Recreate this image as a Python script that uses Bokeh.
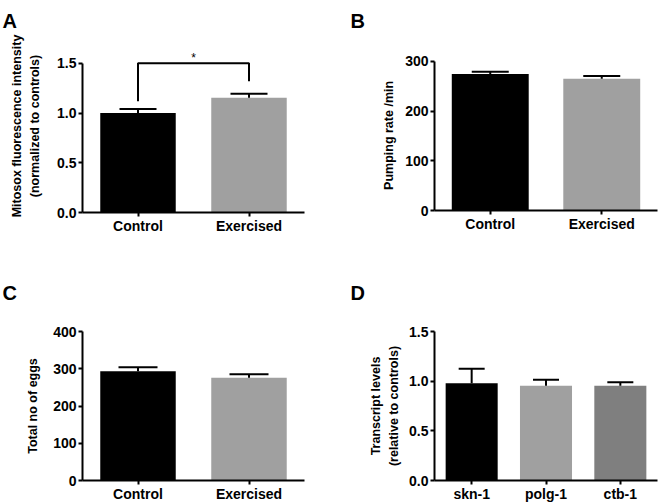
from bokeh.plotting import figure
from bokeh.layouts import column, row
from bokeh.models import (FactorRange, Range1d, FixedTicker, Whisker, TeeHead,
                          ColumnDataSource, PrintfTickFormatter)
from bokeh.embed import file_html
from bokeh.resources import INLINE
from bokeh.core.properties import value

# ---------------- data ----------------
groups = ["Control", "Exercised"]
mitosox_mean = [1.00, 1.155]
mitosox_sem = [0.04, 0.04]
pumping_mean = [274.5, 265.0]
pumping_sem = [4.5, 5.5]
eggs_mean = [293.0, 276.0]
eggs_sem = [11.0, 9.0]
genes = ["skn-1", "polg-1", "ctb-1"]
transcript_mean = [0.978, 0.955, 0.955]
transcript_sem = [0.147, 0.06, 0.035]

colors_2 = ["#000000", "#a0a0a0"]
colors_3 = ["#000000", "#a0a0a0", "#7f7f7f"]

ticks_a = [0, 0.5, 1.0, 1.5]
ticks_b = [0, 100, 200, 300]
ticks_c = [0, 100, 200, 300, 400]
ticks_d = [0, 0.5, 1.0, 1.5]

# significance bracket (panel A)
bracket_x = ["Control", "Control", "Exercised", "Exercised"]
bracket_y = [1.12, 1.5, 1.5, 1.32]
star_text = "*"

FONT = "Liberation Sans"
NBSP = "\u00a0"


def make_panel(letter, factors, means, sems, colors, ylabel, ticks, fmt,
               y_end, axis_top, width, height, mb_left, mb_right, mb_top,
               mb_bottom, bar_w, head, label_standoff, letter_offset,
               letter_standoff):
    p = figure(x_range=FactorRange(factors=factors),
               y_range=Range1d(0, y_end),
               width=width, height=height,
               min_border_left=mb_left, min_border_right=mb_right,
               min_border_top=mb_top, min_border_bottom=mb_bottom,
               output_backend="svg", toolbar_location=None)
    p.frame_align = False
    p.outline_line_color = None
    p.xgrid.visible = False
    p.ygrid.visible = False
    p.background_fill_color = "white"
    p.border_fill_color = "white"

    # panel letter as the figure title
    p.title.text = letter
    p.title.align = "left"
    p.title.offset = letter_offset
    p.title.standoff = letter_standoff
    p.title.text_font = FONT
    p.title.text_font_style = "bold"
    p.title.text_font_size = "20px"
    p.title.text_color = "black"

    src = ColumnDataSource(dict(x=factors, top=means,
                                upper=[m + s for m, s in zip(means, sems)],
                                color=colors))
    p.vbar(x="x", top="top", width=bar_w, fill_color="color",
           line_color=None, source=src)
    w = Whisker(base="x", lower="top", upper="upper", source=src,
                dimension="height", line_width=2, line_color="black",
                upper_head=TeeHead(size=head, line_width=2, line_color="black"),
                lower_head=None, level="overlay")
    p.add_layout(w)

    for ax in (p.xaxis[0], p.yaxis[0]):
        ax.axis_line_width = 2
        ax.axis_line_color = "black"
        ax.major_tick_line_width = 2
        ax.major_tick_line_color = "black"
        ax.major_tick_in = 0
        ax.major_tick_out = 4
        ax.minor_tick_line_color = None
        ax.major_label_text_font = FONT
        ax.major_label_text_font_style = "bold"
        ax.major_label_text_font_size = "14px"
        ax.major_label_text_color = "black"
    p.xaxis[0].major_label_standoff = 1
    p.yaxis[0].major_label_standoff = 2

    ya = p.yaxis[0]
    ya.ticker = FixedTicker(ticks=ticks)
    if fmt:
        ya.formatter = PrintfTickFormatter(format=fmt)
    ya.bounds = (0, axis_top)
    ya.axis_label = ylabel
    ya.axis_label_text_font = FONT
    ya.axis_label_text_font_style = "bold"
    ya.axis_label_text_font_size = "12.5px"
    ya.axis_label_text_color = "black"
    ya.axis_label_standoff = label_standoff
    ya.axis_label_text_line_height = 1.3
    return p


# Panel A
pA = make_panel("A", groups, mitosox_mean, mitosox_sem, colors_2,
                "Mitosox fluorescence intensity\n(normalized to controls)",
                ticks_a, "%.1f", 1.74, 1.5,
                width=330, height=250, mb_left=82, mb_right=26, mb_top=38,
                mb_bottom=38, bar_w=0.68, head=37, label_standoff=12,
                letter_offset=-80, letter_standoff=15)
pA.line(x=bracket_x, y=bracket_y, line_width=2, line_color="black")
pA.text(x=[1.0], y=[1.555], text=[star_text], text_font=value(FONT),
        text_font_size="12px", text_align="center", text_baseline="middle",
        text_color="#000000")

# Panel B (frame extends above 300 so the letter can sit at the top;
# axis line is bounded to 0-300)
pB = make_panel("B", groups, pumping_mean, pumping_sem, colors_2,
                "Pumping rate /min" + NBSP * 6, ticks_b, None, 344, 300,
                width=330, height=250, mb_left=104, mb_right=3, mb_top=38,
                mb_bottom=40, bar_w=0.69, head=37, label_standoff=6,
                letter_offset=-84, letter_standoff=15)

# Panel C
pC = make_panel("C", groups, eggs_mean, eggs_sem, colors_2,
                "Total no of eggs", ticks_c, None, 400, 400,
                width=330, height=254, mb_left=82, mb_right=26, mb_top=81,
                mb_bottom=23, bar_w=0.68, head=39, label_standoff=10,
                letter_offset=-80, letter_standoff=55)

# Panel D
pD = make_panel("D", genes, transcript_mean, transcript_sem, colors_3,
                "Transcript levels\n(relative to controls)", ticks_d, "%.1f",
                1.5, 1.5,
                width=330, height=254, mb_left=104, mb_right=3, mb_top=81,
                mb_bottom=23, bar_w=0.70, head=26, label_standoff=5,
                letter_offset=-84, letter_standoff=55)

layout = column(row(pA, pB, spacing=0), row(pC, pD, spacing=0), spacing=0)

with open("out.html", "w") as f:
    f.write(file_html(layout, INLINE))
